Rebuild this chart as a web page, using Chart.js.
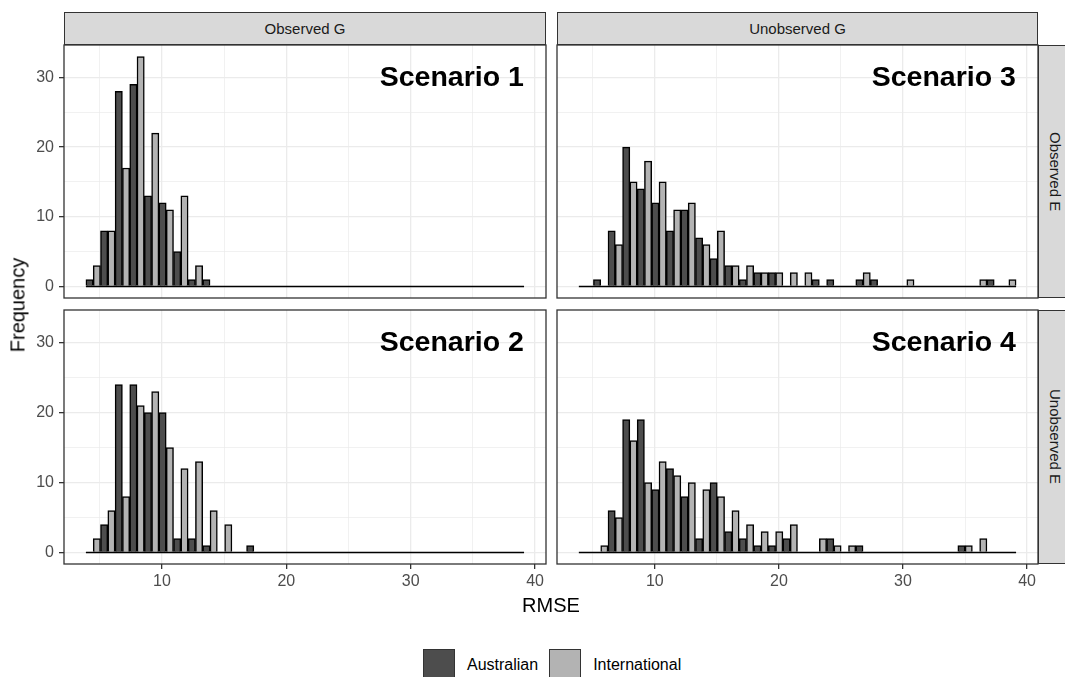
<!DOCTYPE html>
<html lang="en">
<head>
<meta charset="UTF-8">
<title>RMSE histograms</title>
<script src="https://cdn.jsdelivr.net/npm/chart.js"></script>
<style>
  body { margin: 0; width: 1065px; height: 677px; overflow: hidden; background: #fff; position: relative;
         font-family: "Liberation Sans", Arial, sans-serif; }
  canvas { position: absolute; }
  .strip { position: absolute; background: #d9d9d9; border: 1.3px solid #333; box-sizing: border-box;
           color: #1a1a1a; font-size: 15px; display: flex; align-items: center; justify-content: center; }
  .strip.side span { writing-mode: vertical-rl; }
  .title { position: absolute; color: #000; font-size: 20px; white-space: nowrap; }
  #legend { position: absolute; left: 423px; top: 649px; display: flex;
            align-items: center; font-size: 16px; color: #000; }
  .key { width: 32px; height: 32px; box-sizing: border-box; border: 1.3px solid #333; margin-right: 12px; }
</style>
</head>
<body>
<div class="strip" style="left:64px;top:12px;width:482px;height:33px">Observed G</div>
<div class="strip" style="left:557px;top:12px;width:481px;height:33px">Unobserved G</div>
<div class="strip side" style="left:1038px;top:45px;width:34px;height:253px"><span>Observed E</span></div>
<div class="strip side" style="left:1038px;top:310px;width:34px;height:254px"><span>Unobserved E</span></div>

<canvas id="p1" width="548" height="257" style="left:0;top:43px"></canvas>
<canvas id="p3" width="485" height="257" style="left:555px;top:43px"></canvas>
<canvas id="p2" width="548" height="292" style="left:0;top:308px"></canvas>
<canvas id="p4" width="485" height="292" style="left:555px;top:308px"></canvas>

<div class="title" style="left:18px;top:305px;transform:translate(-50%,-50%) rotate(-90deg)">Frequency</div>
<div class="title" style="left:551px;top:605px;transform:translate(-50%,-50%)">RMSE</div>

<div id="legend">
  <div class="key" style="background:#4d4d4d"></div><span style="margin-right:11px">Australian</span>
  <div class="key" style="background:#b3b3b3"></div><span>International</span>
</div>

<script>
    // histogram bins (30 bins shared by every panel)
    const binCentres = [4.468, 5.642, 6.817, 7.991, 9.166, 10.340, 11.515, 12.689, 13.864, 15.038,
                        16.213, 17.387, 18.562, 19.736, 20.911, 22.085, 23.260, 24.434, 25.609, 26.783,
                        27.958, 29.132, 30.307, 31.481, 32.656, 33.830, 35.005, 36.179, 37.354, 38.528];
    const binEdges = [3.880, 39.115];

    // counts per bin
    const s1Aus = [1, 8, 28, 29, 13, 12, 5, 1, 1, 0, 0, 0, 0, 0, 0, 0, 0, 0, 0, 0, 0, 0, 0, 0, 0, 0, 0, 0, 0, 0];
    const s1Int = [3, 8, 17, 33, 22, 11, 13, 3, 0, 0, 0, 0, 0, 0, 0, 0, 0, 0, 0, 0, 0, 0, 0, 0, 0, 0, 0, 0, 0, 0];
    const s2Aus = [0, 4, 24, 24, 20, 20, 2, 2, 1, 0, 0, 1, 0, 0, 0, 0, 0, 0, 0, 0, 0, 0, 0, 0, 0, 0, 0, 0, 0, 0];
    const s2Int = [2, 6, 8, 21, 23, 15, 12, 13, 6, 4, 0, 0, 0, 0, 0, 0, 0, 0, 0, 0, 0, 0, 0, 0, 0, 0, 0, 0, 0, 0];
    const s3Aus = [0, 1, 8, 20, 14, 12, 8, 11, 7, 4, 3, 1, 2, 2, 0, 0, 1, 1, 0, 1, 1, 0, 0, 0, 0, 0, 0, 0, 1, 0];
    const s3Int = [0, 0, 6, 15, 18, 15, 11, 12, 6, 8, 3, 3, 2, 2, 2, 2, 0, 0, 0, 2, 0, 0, 1, 0, 0, 0, 0, 1, 0, 1];
    const s4Aus = [0, 0, 6, 19, 19, 9, 12, 8, 2, 10, 3, 2, 1, 1, 2, 0, 0, 2, 0, 1, 0, 0, 0, 0, 0, 0, 1, 0, 0, 0];
    const s4Int = [0, 1, 5, 16, 10, 13, 11, 10, 9, 8, 6, 4, 3, 3, 4, 0, 2, 1, 1, 0, 0, 0, 0, 0, 0, 0, 1, 2, 0, 0];

    // axis breaks
    const xBreaks = [10, 20, 30, 40];
    const xMinor = [5, 15, 25, 35];
    const yBreaks = [0, 10, 20, 30];
    const yMinor = [5, 15, 25];
    const xRange = [2.12, 40.88];
    const yRange = [-1.65, 34.65];

    const FONT = '"Liberation Sans", Arial, sans-serif';

    // panel border + scenario label
    const frame = {
        id: 'frame',
        afterDatasetsDraw(chart, args, opts) {
            const { ctx, chartArea: a, scales } = chart;
            ctx.save();
            ctx.fillStyle = '#000';
            ctx.font = 'bold 28.5px ' + FONT;
            ctx.textAlign = 'right';
            ctx.textBaseline = 'middle';
            ctx.fillText(opts.text, scales.x.getPixelForValue(39.1), scales.y.getPixelForValue(30) + 1);
            ctx.strokeStyle = '#333';
            ctx.lineWidth = 1.3;
            ctx.strokeRect(a.left, a.top, a.right - a.left, a.bottom - a.top);
            ctx.restore();
        }
    };

    function makePanel(id, aus, intl, text, showX, showY) {
        const isMajorX = c => !!c.tick && xBreaks.includes(c.tick.value);
        const isMajorY = c => !!c.tick && yBreaks.includes(c.tick.value);
        return new Chart(document.getElementById(id), {
            type: 'bar',
            data: {
                datasets: [
                    {
                        label: 'Australian',
                        data: binCentres.map((x, i) => ({ x: x, y: aus[i] })),
                        backgroundColor: '#4d4d4d', borderColor: '#000', borderWidth: 1.5, order: 2
                    },
                    {
                        label: 'International',
                        data: binCentres.map((x, i) => ({ x: x, y: intl[i] })),
                        backgroundColor: '#b3b3b3', borderColor: '#000', borderWidth: 1.5, order: 2
                    },
                    {
                        type: 'line',
                        data: binEdges.map(x => ({ x: x, y: 0 })),
                        borderColor: '#000', borderWidth: 1.5, pointRadius: 0, order: 1
                    }
                ]
            },
            options: {
                responsive: false,
                animation: false,
                events: [],
                layout: { padding: { top: 2, bottom: showX ? 0 : 2, left: showY ? 0 : 2, right: 2 } },
                datasets: { bar: { categoryPercentage: 1, barPercentage: 1 } },
                plugins: { legend: { display: false }, tooltip: { enabled: false }, frame: { text: text } },
                scales: {
                    x: {
                        type: 'linear', min: xRange[0], max: xRange[1], offset: false,
                        afterBuildTicks: s => { s.ticks = xMinor.concat(xBreaks).sort((a, b) => a - b).map(v => ({ value: v })); },
                        afterFit: s => { s.height = showX ? 36 : 0; s.paddingLeft = 0; s.paddingRight = 0; },
                        ticks: {
                            display: showX, autoSkip: false, maxRotation: 0, padding: 3,
                            color: '#4d4d4d', font: { family: FONT, size: 16 },
                            callback: v => xBreaks.includes(v) ? String(v) : ''
                        },
                        grid: {
                            offset: false,
                            color: '#ebebeb',
                            lineWidth: c => isMajorX(c) ? 1.3 : 0.7,
                            drawTicks: showX, tickLength: 5, tickWidth: 1.3,
                            tickColor: c => isMajorX(c) ? '#333' : 'rgba(0,0,0,0)'
                        },
                        border: { display: false }
                    },
                    y: {
                        min: yRange[0], max: yRange[1],
                        afterBuildTicks: s => { s.ticks = yMinor.concat(yBreaks).sort((a, b) => a - b).map(v => ({ value: v })); },
                        afterFit: s => { s.width = showY ? 64 : 0; s.paddingTop = 0; s.paddingBottom = 0; },
                        ticks: {
                            display: showY, autoSkip: false, padding: 5,
                            color: '#4d4d4d', font: { family: FONT, size: 16 },
                            callback: v => yBreaks.includes(v) ? String(v) : ''
                        },
                        grid: {
                            color: '#ebebeb',
                            lineWidth: c => isMajorY(c) ? 1.3 : 0.7,
                            drawTicks: showY, tickLength: 5, tickWidth: 1.3,
                            tickColor: c => isMajorY(c) ? '#333' : 'rgba(0,0,0,0)'
                        },
                        border: { display: false }
                    }
                }
            },
            plugins: [frame]
        });
    }

    makePanel('p1', s1Aus, s1Int, 'Scenario 1', false, true);
    makePanel('p3', s3Aus, s3Int, 'Scenario 3', false, false);
    makePanel('p2', s2Aus, s2Int, 'Scenario 2', true, true);
    makePanel('p4', s4Aus, s4Int, 'Scenario 4', true, false);
</script>
</body>
</html>
